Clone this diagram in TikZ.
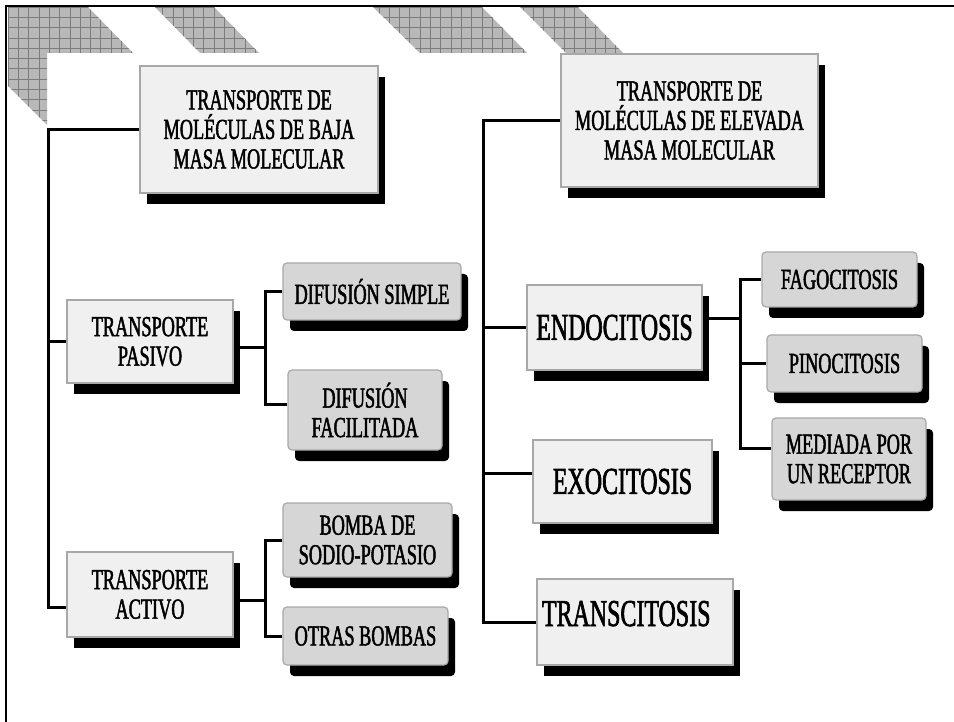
\documentclass[tikz,border=0pt]{standalone}
\usepackage{fontspec}
\setmainfont{Liberation Serif}[FakeStretch=0.63,FakeBold=1.6]
\usetikzlibrary{shadows,calc}
\definecolor{bigfill}{HTML}{F0F0F0}
\definecolor{smallfill}{HTML}{D6D6D6}
\definecolor{boxline}{HTML}{A8A8A8}
\definecolor{hatch}{HTML}{B8B8B8}
\definecolor{hatchline}{HTML}{7C7C7C}
\begin{document}
\begin{tikzpicture}[x=1pt,y=-1pt,
  shadowed/.style={drop shadow={shadow xshift=7pt,shadow yshift=-11pt,fill=black,opacity=1}},
  bigbox/.style={shadowed,draw=boxline,line width=1.2pt,fill=bigfill,inner sep=0pt,align=center,font=\fontsize{29}{29.5}\selectfont},
  smallbox/.style={bigbox,fill=smallfill,rounded corners=4pt},
  hugebox/.style={bigbox,font=\fontsize{38}{40}\selectfont},
  conn/.style={line width=3pt,black},
  gridln/.style={hatchline,line width=0.6pt}
]
\useasboundingbox (0,0) rectangle (954,722);
\fill[white] (0,0) rectangle (954,722);
% hatched decoration
\begin{scope}
  \clip (8,7)--(88,7)--(133,53)--(47,53)--(47,125)--(8,86)--cycle
        (155,7)--(214,7)--(259,53)--(200,53)--cycle
        (373,7)--(482,7)--(527,53)--(420,53)--cycle
        (520,7)--(578,7)--(623,53)--(566,53)--cycle;
  \fill[hatch] (0,0) rectangle (640,130);
  \foreach \i in {0,...,62} \draw[gridln] ({8+\i*10.3},0) -- ++(0,140);
  \foreach \j in {0,...,13} \draw[gridln] (0,{7+\j*10.3}) -- ++(660,0);
\end{scope}
% frame
\draw[line width=2.5pt] (954,6) -- (6,6) -- (6,722);
% boxes
\node[bigbox,minimum width=238pt,minimum height=127pt] (baja) at (259,129.5)
  {TRANSPORTE DE\\MOLÉCULAS DE BAJA\\MASA MOLECULAR};
\node[bigbox,minimum width=257pt,minimum height=133pt] (elev) at (689.5,120.5)
  {TRANSPORTE DE\\MOLÉCULAS DE ELEVADA\\MASA MOLECULAR};
\node[bigbox,minimum width=166pt,minimum height=83pt] (pasivo) at (150,341.5)
  {TRANSPORTE\\PASIVO};
\node[bigbox,minimum width=166pt,minimum height=85pt] (activo) at (150,594.5)
  {TRANSPORTE\\ACTIVO};
\node[smallbox,minimum width=178pt,minimum height=57pt] (difsim) at (372,291.5)
  {DIFUSIÓN SIMPLE};
\node[smallbox,minimum width=154pt,minimum height=80pt] (diffac) at (365,410)
  {DIFUSIÓN\\FACILITADA};
\node[smallbox,minimum width=169pt,minimum height=74pt] (bomba) at (367.5,540)
  {BOMBA DE\\SODIO-POTASIO};
\node[smallbox,minimum width=165pt,minimum height=58pt] (otras) at (365.5,636)
  {OTRAS BOMBAS};
\node[hugebox,minimum width=175pt,minimum height=85pt] (endo) at (614.5,327.5)
  {ENDOCITOSIS};
\node[hugebox,minimum width=179pt,minimum height=83pt] (exo) at (622.5,481.5)
  {EXOCITOSIS};
\node[hugebox,minimum width=196pt,minimum height=86pt,inner xsep=5pt,
      text width=186pt,align=left,text height=26pt,text depth=18pt] (trans) at (635,622)
  {TRANSCITOSIS};
\node[smallbox,minimum width=155pt,minimum height=55pt] (fago) at (839.5,279.5)
  {FAGOCITOSIS};
\node[smallbox,minimum width=155pt,minimum height=57pt] (pino) at (844.5,363.5)
  {PINOCITOSIS};
\node[smallbox,minimum width=154pt,minimum height=82pt] (medi) at (849,459)
  {MEDIADA POR\\UN RECEPTOR};
% connectors
\coordinate (L) at (48,0);
\coordinate (B) at (265,0);
\coordinate (R) at (483,0);
\coordinate (E) at (740,0);
\draw[conn] (baja.west) -| (L |- 0,607) -- (activo.west |- 0,607);
\draw[conn] (L |- pasivo.west) -- (pasivo.west);
\draw[conn] (pasivo.east |- 0,348) -- (B |- 0,348);
\draw[conn] (difsim.west) -| (B |- 0,404) -- (diffac.west |- 0,404);
\draw[conn] (activo.east |- 0,600) -- (B |- 0,600);
\draw[conn] (bomba.west) -| (B |- otras.west) -- (otras.west);
\draw[conn] (elev.west) -| (R |- trans.west) -- (trans.west);
\draw[conn] (R |- endo.west) -- (endo.west);
\draw[conn] (R |- 0,473) -- (exo.west |- 0,473);
\draw[conn] (endo.east |- 0,319) -- (E |- 0,319);
\draw[conn] (fago.west) -| (E |- 0,448) -- (medi.west |- 0,448);
\draw[conn] (E |- pino.west) -- (pino.west);
\end{tikzpicture}
\end{document}
